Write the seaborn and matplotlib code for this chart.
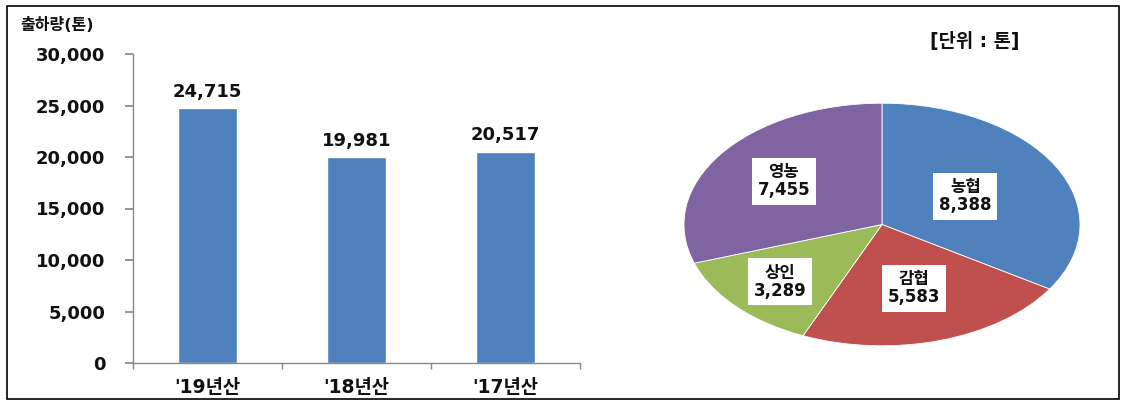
import numpy as np
import pandas as pd
import matplotlib
matplotlib.use("Agg")
import matplotlib.pyplot as plt
import seaborn as sns
from matplotlib.ticker import FuncFormatter

# ------------------------------------------------------------
# data
# ------------------------------------------------------------
years = ["'19년산", "'18년산", "'17년산"]
shipments = [24715, 19981, 20517]

buyers = ["농협", "감협", "상인", "영농"]
buyer_tons = [8388, 5583, 3289, 7455]
buyer_colors = ["#4F81BD", "#C0504D", "#9BBB59", "#8064A2"]

sns.set_theme(style="white")
plt.rcParams["font.family"] = ["DejaVu Sans", "Noto Sans CJK KR"]
plt.rcParams["font.weight"] = "bold"

fig = plt.figure(figsize=(11.26, 4.07), dpi=100)

# outer frame
frame = plt.Rectangle((0.006, 0.02), 0.988, 0.965, transform=fig.transFigure,
                      fill=False, edgecolor="black", linewidth=1.2)
fig.patches.append(frame)

# ------------------------------------------------------------
# bar chart
# ------------------------------------------------------------
ax = fig.add_axes([133 / 1126, (407 - 363) / 407, 447 / 1126, 309 / 407])
df = pd.DataFrame({"year": years, "tons": shipments})
sns.barplot(data=df, x="year", y="tons", color="#4F81BD", width=0.39,
            saturation=1, ax=ax)
ax.set_ylim(0, 30000)
ax.set_yticks(np.arange(0, 30001, 5000))
ax.yaxis.set_major_formatter(FuncFormatter(lambda v, p: f"{int(v):,}"))
ax.set_xlim(-0.5, 2.5)
ax.set_xlabel("")
ax.set_ylabel("")
for s in ["top", "right"]:
    ax.spines[s].set_visible(False)
for s in ["left", "bottom"]:
    ax.spines[s].set_color("#888888")
    ax.spines[s].set_linewidth(1)
ax.tick_params(axis="y", left=True, length=6, color="#888888", labelsize=13,
               labelcolor="#111111", pad=14)
ax.tick_params(axis="x", bottom=False, labelsize=13.5, labelcolor="#111111", pad=5)
ax.set_xticks([-0.5, 0.5, 1.5, 2.5], minor=True)
ax.tick_params(axis="x", which="minor", bottom=True, length=4, color="#888888")
for lbl in ax.get_yticklabels() + ax.get_xticklabels():
    lbl.set_fontweight("bold")
for i, v in enumerate(shipments):
    ax.text(i, v + 700, f"{v:,}", ha="center", va="bottom", fontsize=13,
            fontweight="bold", color="#111111")
fig.text(20 / 1126, 1 - 25 / 407, "출하량(톤)", fontsize=11.5, fontweight="bold",
         color="#111111", va="center")

# ------------------------------------------------------------
# pie chart
# ------------------------------------------------------------
pax = fig.add_axes([682 / 1126, (407 - 347) / 407, 400 / 1126, 245 / 407])
wedges, texts, autotexts = pax.pie(
    buyer_tons, colors=buyer_colors, startangle=90, counterclock=False,
    autopct="%1.0f", pctdistance=0.55,
    wedgeprops=dict(edgecolor="white", linewidth=0.6))
pax.set_aspect("auto")
pax.set_xlim(-1.01, 1.01)
pax.set_ylim(-1.01, 1.01)
label_r = [0.48, 0.55, 0.70, 0.61]
for w, t, name, val, r in zip(wedges, autotexts, buyers, buyer_tons, label_r):
    ang = np.deg2rad((w.theta1 + w.theta2) / 2)
    t.set_position((r * np.cos(ang), r * np.sin(ang)))
    t.set_text(f"{name}\n{val:,}")
    t.set_fontsize(12)
    t.set_fontweight("bold")
    t.set_color("#111111")
    t.set_linespacing(1.0)
    t.set_bbox(dict(facecolor="white", edgecolor="none", pad=4))
fig.text(930 / 1126, 1 - 42 / 407, "[단위 : 톤]", fontsize=13.5, fontweight="bold",
         color="#111111", va="center")

fig.savefig("out.png", dpi=100)
